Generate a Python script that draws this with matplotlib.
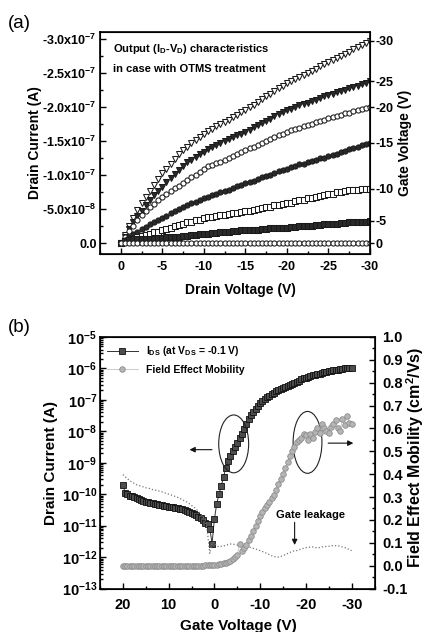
import numpy as np
import matplotlib
matplotlib.use("agg")
import matplotlib.pyplot as plt
from matplotlib.patches import Ellipse
from matplotlib.ticker import MultipleLocator, LogLocator, NullFormatter

plt.rcParams['font.family'] = ['Liberation Sans', 'DejaVu Sans']
plt.rcParams['font.weight'] = 'bold'
plt.rcParams['axes.unicode_minus'] = False
plt.rcParams['mathtext.fontset'] = 'custom'
plt.rcParams['mathtext.rm'] = 'Liberation Sans:bold'
plt.rcParams['mathtext.it'] = 'Liberation Sans:bold'
plt.rcParams['mathtext.bf'] = 'Liberation Sans:bold'
plt.rcParams['mathtext.default'] = 'rm'

# %%
# (a) output curves, drain current in units of 1e-7 A, drain voltage swept 0 -> -30 V in 0.5 V steps
vd = np.linspace(0, -30, 61)

ids_vg30 = [0.00, -0.12, -0.25, -0.37, -0.49, -0.59, -0.68, -0.77, -0.86, -0.95,
            -1.03, -1.10, -1.17, -1.24, -1.31, -1.37, -1.42, -1.47, -1.52, -1.57,
            -1.61, -1.65, -1.68, -1.72, -1.75, -1.79, -1.82, -1.86, -1.89, -1.93,
            -1.96, -2.00, -2.04, -2.08, -2.12, -2.16, -2.20, -2.24, -2.28, -2.31,
            -2.35, -2.38, -2.41, -2.45, -2.48, -2.51, -2.54, -2.57, -2.61, -2.64,
            -2.67, -2.70, -2.73, -2.76, -2.79, -2.82, -2.85, -2.88, -2.91, -2.95,
            -2.98]
ids_vg25 = [0.00, -0.10, -0.21, -0.31, -0.40, -0.48, -0.56, -0.64, -0.71, -0.77,
            -0.83, -0.90, -0.96, -1.02, -1.08, -1.14, -1.19, -1.23, -1.27, -1.31,
            -1.35, -1.38, -1.41, -1.44, -1.47, -1.50, -1.53, -1.56, -1.59, -1.61,
            -1.64, -1.67, -1.71, -1.74, -1.77, -1.80, -1.83, -1.87, -1.90, -1.93,
            -1.96, -1.98, -2.00, -2.03, -2.05, -2.07, -2.09, -2.11, -2.14, -2.16,
            -2.18, -2.20, -2.22, -2.24, -2.26, -2.28, -2.30, -2.32, -2.34, -2.36,
            -2.38]
ids_vg20 = [0.00, -0.09, -0.18, -0.26, -0.34, -0.41, -0.47, -0.53, -0.58, -0.63,
            -0.68, -0.73, -0.77, -0.81, -0.85, -0.89, -0.93, -0.97, -1.01, -1.05,
            -1.10, -1.13, -1.15, -1.18, -1.20, -1.23, -1.26, -1.29, -1.31, -1.34,
            -1.37, -1.40, -1.42, -1.45, -1.48, -1.50, -1.53, -1.56, -1.59, -1.61,
            -1.64, -1.66, -1.68, -1.70, -1.72, -1.74, -1.76, -1.78, -1.80, -1.82,
            -1.84, -1.86, -1.87, -1.89, -1.91, -1.92, -1.94, -1.96, -1.97, -1.99,
            -2.00]
ids_vg15 = [0.00, -0.05, -0.09, -0.13, -0.17, -0.21, -0.24, -0.28, -0.31, -0.34,
            -0.37, -0.40, -0.44, -0.47, -0.51, -0.54, -0.56, -0.59, -0.61, -0.64,
            -0.66, -0.68, -0.71, -0.73, -0.75, -0.77, -0.79, -0.82, -0.84, -0.86,
            -0.88, -0.90, -0.92, -0.95, -0.97, -0.99, -1.01, -1.03, -1.06, -1.08,
            -1.10, -1.12, -1.14, -1.16, -1.17, -1.19, -1.21, -1.23, -1.25, -1.26,
            -1.28, -1.30, -1.32, -1.34, -1.36, -1.38, -1.40, -1.42, -1.44, -1.46,
            -1.48]
ids_vg10 = [0.00, -0.03, -0.05, -0.07, -0.09, -0.11, -0.12, -0.14, -0.16, -0.17,
            -0.19, -0.21, -0.23, -0.25, -0.27, -0.29, -0.31, -0.32, -0.34, -0.35,
            -0.37, -0.38, -0.39, -0.40, -0.41, -0.42, -0.43, -0.44, -0.45, -0.46,
            -0.47, -0.48, -0.49, -0.51, -0.52, -0.53, -0.54, -0.56, -0.57, -0.58,
            -0.59, -0.60, -0.62, -0.63, -0.64, -0.66, -0.67, -0.68, -0.69, -0.71,
            -0.72, -0.73, -0.75, -0.76, -0.77, -0.78, -0.79, -0.79, -0.80, -0.80,
            -0.80]
ids_vg5 = [0.00, -0.03, -0.05, -0.06, -0.07, -0.07, -0.07, -0.06, -0.07, -0.08,
           -0.08, -0.09, -0.09, -0.10, -0.10, -0.11, -0.11, -0.12, -0.12, -0.13,
           -0.13, -0.14, -0.15, -0.15, -0.16, -0.17, -0.17, -0.18, -0.18, -0.19,
           -0.19, -0.19, -0.20, -0.20, -0.21, -0.21, -0.22, -0.22, -0.22, -0.23,
           -0.23, -0.24, -0.24, -0.25, -0.25, -0.26, -0.26, -0.27, -0.27, -0.28,
           -0.28, -0.29, -0.29, -0.30, -0.30, -0.31, -0.31, -0.31, -0.32, -0.32,
           -0.33]
ids_vg0 = [0.00, 0.00, 0.00, 0.00, 0.00, 0.00, 0.00, 0.00, 0.00, 0.00,
           0.00, 0.00, 0.00, 0.00, 0.00, 0.00, 0.00, 0.00, 0.00, 0.00,
           0.00, 0.00, 0.00, 0.00, 0.00, 0.00, 0.00, 0.00, 0.00, 0.00,
           0.00, 0.00, 0.00, 0.00, 0.00, 0.00, 0.00, 0.00, 0.00, 0.00,
           0.00, 0.00, 0.00, 0.00, 0.00, 0.00, 0.00, 0.00, 0.00, 0.00,
           0.00, 0.00, 0.00, 0.00, 0.00, 0.00, 0.00, 0.00, 0.00, 0.00,
           0.00]

gate_labels = ['-30', '-25', '-20', '-15', '-10', '-5', '0']
ya_ticks = [0.0, -0.5, -1.0, -1.5, -2.0, -2.5, -3.0]
ya_labels = ['0.0', '-5.0x10$^{-8}$', '-1.0x10$^{-7}$', '-1.5x10$^{-7}$',
             '-2.0x10$^{-7}$', '-2.5x10$^{-7}$', '-3.0x10$^{-7}$']

# %%
# (b) transfer curve, gate voltage swept 20 -> -30 V in 0.5 V steps
vg = np.linspace(20, -30, 101)

ids_transfer = [2.0e-10, 1.1e-10, 1.0e-10, 9.0e-11, 8.5e-11, 8.0e-11, 7.5e-11, 7.0e-11, 6.6e-11, 6.2e-11,
                5.8e-11, 5.6e-11, 5.3e-11, 5.1e-11, 4.9e-11, 4.7e-11, 4.5e-11, 4.4e-11, 4.2e-11, 4.1e-11,
                4.0e-11, 3.9e-11, 3.8e-11, 3.6e-11, 3.7e-11, 3.5e-11, 3.3e-11, 3.2e-11, 3.0e-11, 2.7e-11,
                2.5e-11, 2.4e-11, 2.2e-11, 1.9e-11, 1.7e-11, 1.5e-11, 1.2e-11, 1.1e-11, 8.0e-12, 2.7e-12,
                1.6e-11, 4.8e-11, 1.0e-10, 1.8e-10, 3.5e-10, 7.0e-10, 1.1e-9, 1.6e-9, 2.3e-9, 3.2e-9,
                4.4e-9, 6.0e-9, 8.5e-9, 1.2e-8, 1.7e-8, 2.4e-8, 3.2e-8, 4.2e-8, 5.3e-8, 6.6e-8,
                8.0e-8, 9.3e-8, 1.07e-7, 1.22e-7, 1.37e-7, 1.52e-7, 1.68e-7, 1.85e-7, 2.02e-7, 2.2e-7,
                2.4e-7, 2.6e-7, 2.8e-7, 3.0e-7, 3.25e-7, 3.5e-7, 3.8e-7, 4.1e-7, 4.5e-7, 4.8e-7,
                5.1e-7, 5.4e-7, 5.7e-7, 6.0e-7, 6.3e-7, 6.6e-7, 6.9e-7, 7.2e-7, 7.5e-7, 7.8e-7,
                8.0e-7, 8.3e-7, 8.6e-7, 8.9e-7, 9.2e-7, 9.5e-7, 9.8e-7, 1.0e-6, 1.03e-6, 1.05e-6,
                1.07e-6]
mobility = [0.0, 0.0, 0.0, 0.0, 0.0, 0.0, 0.0, 0.0, 0.0, 0.0,
            0.0, 0.0, 0.0, 0.0, 0.0, 0.0, 0.0, 0.0, 0.0, 0.0,
            0.0, 0.0, 0.0, 0.0, 0.0, 0.0, 0.0, 0.0, 0.0, 0.0,
            0.0, 0.0, 0.0, 0.0, 0.0, 0.0, 0.001, 0.001, 0.002, 0.002,
            0.003, 0.004, 0.006, 0.008, 0.010, 0.013, 0.017, 0.022, 0.028, 0.036,
            0.045, 0.095, 0.065, 0.078, 0.092, 0.110, 0.128, 0.150, 0.172, 0.195,
            0.215, 0.235, 0.250, 0.265, 0.280, 0.295, 0.310, 0.330, 0.355, 0.380,
            0.400, 0.425, 0.455, 0.480, 0.500, 0.520, 0.540, 0.550, 0.560, 0.575,
            0.570, 0.550, 0.575, 0.560, 0.585, 0.600, 0.580, 0.620, 0.600, 0.590,
            0.580, 0.605, 0.620, 0.635, 0.600, 0.590, 0.640, 0.615, 0.655, 0.625,
            0.620]
gate_leakage = [4.2e-10, 3.6e-10, 3.1e-10, 2.7e-10, 2.4e-10, 2.2e-10, 2.0e-10, 1.9e-10, 1.8e-10, 1.7e-10,
                1.6e-10, 1.55e-10, 1.5e-10, 1.4e-10, 1.35e-10, 1.3e-10, 1.25e-10, 1.2e-10, 1.12e-10, 1.07e-10,
                1.0e-10, 9.5e-11, 9.0e-11, 8.4e-11, 7.9e-11, 7.3e-11, 6.7e-11, 6.1e-11, 5.6e-11, 5.0e-11,
                4.4e-11, 3.9e-11, 3.4e-11, 2.8e-11, 2.3e-11, 1.9e-11, 1.6e-11, 6.0e-12, 1.3e-12, 3.0e-12,
                2.8e-12, 2.3e-12, 2.1e-12, 2.2e-12, 2.3e-12, 2.3e-12, 2.5e-12, 2.6e-12, 2.6e-12, 2.5e-12,
                2.4e-12, 2.3e-12, 2.3e-12, 2.2e-12, 2.1e-12, 2.1e-12, 2.0e-12, 1.9e-12, 1.8e-12, 1.7e-12,
                1.6e-12, 1.5e-12, 1.4e-12, 1.3e-12, 1.2e-12, 1.1e-12, 1.05e-12, 1.0e-12, 1.0e-12, 1.05e-12,
                1.1e-12, 1.2e-12, 1.3e-12, 1.4e-12, 1.5e-12, 1.6e-12, 1.6e-12, 1.7e-12, 1.8e-12, 1.9e-12,
                2.0e-12, 2.0e-12, 2.1e-12, 2.1e-12, 2.0e-12, 2.0e-12, 2.0e-12, 2.1e-12, 2.1e-12, 2.2e-12,
                2.2e-12, 2.3e-12, 2.3e-12, 2.3e-12, 2.3e-12, 2.2e-12, 2.1e-12, 2.0e-12, 1.9e-12, 1.7e-12,
                1.6e-12]

yb_ticks = [1e-13, 1e-12, 1e-11, 1e-10, 1e-9, 1e-8, 1e-7, 1e-6, 1e-5]
yb_labels = ['10$^{-13}$', '10$^{-12}$', '10$^{-11}$', '10$^{-10}$', '10$^{-9}$',
             '10$^{-8}$', '10$^{-7}$', '10$^{-6}$', '10$^{-5}$']
mob_ticks = [-0.1, 0.0, 0.1, 0.2, 0.3, 0.4, 0.5, 0.6, 0.7, 0.8, 0.9, 1.0]
mob_labels = ['-0.1', '0.0', '0.1', '0.2', '0.3', '0.4', '0.5', '0.6', '0.7', '0.8', '0.9', '1.0']

fig = plt.figure(figsize=(4.26, 6.32), dpi=100)

# ---------------- panel (a)
ax_a = fig.add_axes([100 / 426, 1 - 254 / 632, 270 / 426, 222 / 632])
curves = [(ids_vg30, 'v', 'white'), (ids_vg25, 'v', '#2a2a2a'), (ids_vg20, 'o', 'white'),
          (ids_vg15, 'o', '#2a2a2a'), (ids_vg10, 's', 'white'), (ids_vg5, 's', '#2a2a2a'),
          (ids_vg0, 'o', 'white')]
for vals, mk, fc in curves:
    ax_a.plot(vd, np.array(vals) * 1e-7, ls='none', marker=mk, ms=3.7, mfc=fc,
              mec='#1a1a1a', mew=0.75)
ax_a.set_xlim(2.5, -30)
ax_a.set_ylim(0.157e-7, -3.107e-7)
ax_a.xaxis.set_major_locator(MultipleLocator(5))
ax_a.xaxis.set_minor_locator(MultipleLocator(2.5))
ax_a.set_yticks(np.array(ya_ticks) * 1e-7)
ax_a.set_yticklabels(ya_labels)
ax_a.yaxis.set_minor_locator(MultipleLocator(0.25e-7))
ax_a.tick_params(which='both', direction='in', width=1, labelsize=9)
ax_a.tick_params(which='major', length=4)
ax_a.tick_params(which='minor', length=2)
ax_a.tick_params(axis='x', pad=5)
ax_a.tick_params(axis='y', pad=2.5)
ax_a.set_xlabel('Drain Voltage (V)', fontsize=10, fontweight='bold')
ax_a.set_ylabel('Drain Current (A)', fontsize=10, fontweight='bold')
ax_a.xaxis.set_label_coords(0.519, -0.131)
ax_a.yaxis.set_label_coords(-0.215, 0.5)
for sp in ax_a.spines.values():
    sp.set_linewidth(1.2)
ax_a.text(0.049, 0.909, 'Output (I$_D$-V$_D$) characteristics', transform=ax_a.transAxes,
          fontsize=8, fontweight='bold', va='baseline')
ax_a.text(0.049, 0.82, 'in case with OTMS treatment', transform=ax_a.transAxes,
          fontsize=8, fontweight='bold', va='baseline')

ax_a2 = ax_a.twinx()
ax_a2.set_ylim(ax_a.get_ylim())
ax_a2.set_yticks([c[0][-1] * 1e-7 for c in curves])
ax_a2.set_yticklabels(gate_labels)
ax_a2.tick_params(direction='out', length=3, width=1, labelsize=9, pad=1)
ax_a2.set_ylabel('Gate Voltage (V)', fontsize=10, fontweight='bold')
ax_a2.yaxis.set_label_coords(1.104, 0.5)

fig.text(8 / 426, 1 - 23.5 / 632, '(a)', fontsize=13.5, fontweight='normal', va='center', ha='left')

# ---------------- panel (b)
ax_b = fig.add_axes([100 / 426, 1 - 588.5 / 632, 274.5 / 426, 251.5 / 632])
ax_b.set_yscale('log')
ln_ids, = ax_b.plot(vg, ids_transfer, marker='s', ms=3.8, mfc='#4d4d4d', mec='#111111', mew=0.6,
                    color='#333333', lw=0.7, label='I$_{DS}$ (at V$_{DS}$ = -0.1 V)')
ax_b.plot(vg, gate_leakage, ls=':', color='#777777', lw=0.9)
ax_b.set_xlim(25, -35)
ax_b.set_ylim(1e-13, 1e-5)
ax_b.set_yticks(yb_ticks)
ax_b.set_yticklabels(yb_labels)
ax_b.yaxis.set_minor_locator(LogLocator(base=10, subs=np.arange(2, 10) * 1.0, numticks=20))
ax_b.yaxis.set_minor_formatter(NullFormatter())
ax_b.xaxis.set_major_locator(MultipleLocator(10))
ax_b.xaxis.set_minor_locator(MultipleLocator(5))
ax_b.tick_params(which='both', direction='in', width=1, labelsize=10.5)
ax_b.tick_params(which='major', length=4)
ax_b.tick_params(which='minor', length=2)
ax_b.tick_params(axis='x', pad=7)
ax_b.tick_params(axis='y', pad=2)
ax_b.set_xlabel('Gate Voltage (V)', fontsize=11, fontweight='bold')
ax_b.set_ylabel('Drain Current (A)', fontsize=11, fontweight='bold')
ax_b.xaxis.set_label_coords(0.503, -0.123)
ax_b.yaxis.set_label_coords(-0.153, 0.5)
for sp in ax_b.spines.values():
    sp.set_linewidth(1.2)

ax_b2 = ax_b.twinx()
ln_mob, = ax_b2.plot(vg, mobility, marker='o', ms=4, mfc='#b5b5b5', mec='#8c8c8c', mew=0.6,
                     color='#c4c4c4', lw=0.6, label='Field Effect Mobility')
ax_b2.set_ylim(-0.1, 1.0)
ax_b2.set_yticks(mob_ticks)
ax_b2.set_yticklabels(mob_labels)
ax_b2.yaxis.set_minor_locator(MultipleLocator(0.05))
ax_b2.tick_params(which='both', direction='in', width=1, labelsize=10.5, pad=5.5)
ax_b2.tick_params(which='major', length=4)
ax_b2.tick_params(which='minor', length=2)
ax_b2.set_ylabel('Field Effect Mobility (cm$^2$/Vs)', fontsize=11.5, fontweight='bold')
ax_b2.yaxis.set_label_coords(1.1075, 0.52)

ax_b2.legend([ln_ids, ln_mob], [ln_ids.get_label(), ln_mob.get_label()], loc='upper left',
             bbox_to_anchor=(0.0, 1.0), frameon=False, fontsize=7.5, handlelength=2.9,
             handletextpad=0.8, labelspacing=0.65, borderaxespad=0.3)

ax_b2.add_patch(Ellipse((0.487, 0.575), 0.109, 0.23, transform=ax_b2.transAxes,
                        fill=False, ec='#222222', lw=0.8))
ax_b2.add_patch(Ellipse((0.756, 0.581), 0.105, 0.246, transform=ax_b2.transAxes,
                        fill=False, ec='#222222', lw=0.8))
arrow = dict(arrowstyle='-|>', color='#111111', lw=0.8, mutation_scale=8)
ax_b2.annotate('', xy=(0.316, 0.552), xytext=(0.418, 0.552), xycoords='axes fraction',
               arrowprops=arrow)
ax_b2.annotate('', xy=(0.933, 0.578), xytext=(0.821, 0.578), xycoords='axes fraction',
               arrowprops=arrow)
ax_b2.text(0.767, 0.294, 'Gate leakage', transform=ax_b2.transAxes, fontsize=8,
           fontweight='bold', ha='center', va='center')
ax_b2.annotate('', xy=(0.709, 0.162), xytext=(0.709, 0.274), xycoords='axes fraction',
               arrowprops=arrow)

fig.text(8 / 426, 1 - 327 / 632, '(b)', fontsize=13.5, fontweight='normal', va='center', ha='left')

fig.savefig('out.png', dpi=100)
